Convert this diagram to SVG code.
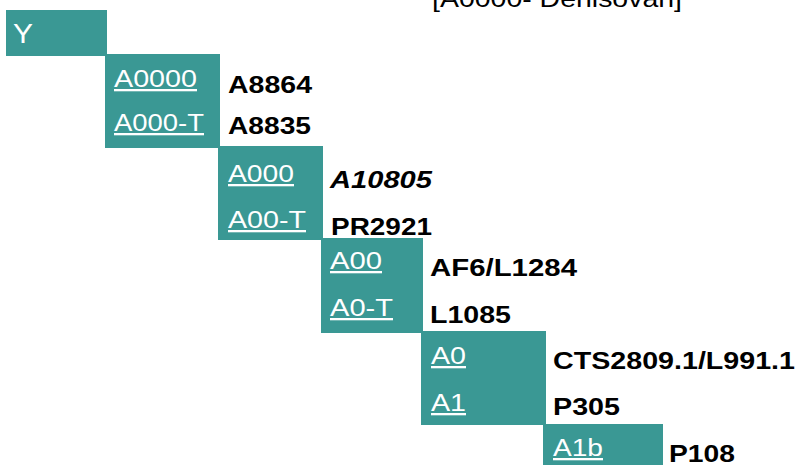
<svg xmlns="http://www.w3.org/2000/svg" width="797" height="465" viewBox="0 0 797 465">
<defs>
<style>
.box{fill:#3a9894;}
.hap{font-family:"Liberation Sans",Arial,sans-serif;font-size:23px;fill:#fff;text-decoration:underline;}
.root{font-family:"Liberation Sans",Arial,sans-serif;font-size:27px;fill:#fff;}
.snp{font-family:"Liberation Sans",Arial,sans-serif;font-size:23px;font-weight:bold;fill:#000;}
.it{font-style:italic;}
.title{font-family:"Liberation Sans",Arial,sans-serif;font-size:24px;fill:#000;}
</style>
</defs>
<rect width="797" height="465" fill="#fff"/>
<text class="title" x="432" y="7" textLength="250" lengthAdjust="spacingAndGlyphs">[A0000- Denisovan]</text>
<g id="connectors"></g>
<g id="node-Y">
<rect class="box" x="6" y="10" width="101" height="46"/>
<text class="root" x="13" y="43" textLength="20" lengthAdjust="spacingAndGlyphs">Y</text>
</g>
<g id="node-A0000">
<rect class="box" x="105" y="54" width="115" height="94"/>
<text class="hap" x="114" y="87" textLength="83" lengthAdjust="spacingAndGlyphs">A0000</text>
<text class="hap" x="114" y="131" textLength="90" lengthAdjust="spacingAndGlyphs">A000-T</text>
<text class="snp" x="228" y="93" textLength="84" lengthAdjust="spacingAndGlyphs">A8864</text>
<text class="snp" x="228" y="134" textLength="83" lengthAdjust="spacingAndGlyphs">A8835</text>
</g>
<g id="node-A000">
<rect class="box" x="218" y="146" width="105" height="94"/>
<text class="hap" x="228" y="182" textLength="66" lengthAdjust="spacingAndGlyphs">A000</text>
<text class="hap" x="228" y="228" textLength="78" lengthAdjust="spacingAndGlyphs">A00-T</text>
<text class="snp it" x="330" y="188" textLength="102" lengthAdjust="spacingAndGlyphs">A10805</text>
<text class="snp" x="331" y="235" textLength="101" lengthAdjust="spacingAndGlyphs">PR2921</text>
</g>
<g id="node-A00">
<rect class="box" x="321" y="238" width="102" height="95"/>
<text class="hap" x="330" y="269" textLength="52" lengthAdjust="spacingAndGlyphs">A00</text>
<text class="hap" x="330" y="316" textLength="63" lengthAdjust="spacingAndGlyphs">A0-T</text>
<text class="snp" x="430" y="276" textLength="147" lengthAdjust="spacingAndGlyphs">AF6/L1284</text>
<text class="snp" x="430" y="323" textLength="81" lengthAdjust="spacingAndGlyphs">L1085</text>
</g>
<g id="node-A0">
<rect class="box" x="421" y="331" width="125" height="94"/>
<text class="hap" x="431" y="364" textLength="35" lengthAdjust="spacingAndGlyphs">A0</text>
<text class="hap" x="431" y="411" textLength="35" lengthAdjust="spacingAndGlyphs">A1</text>
<text class="snp" x="553" y="369" textLength="242" lengthAdjust="spacingAndGlyphs">CTS2809.1/L991.1</text>
<text class="snp" x="553" y="415" textLength="67" lengthAdjust="spacingAndGlyphs">P305</text>
</g>
<g id="node-A1b">
<rect class="box" x="543" y="424" width="120" height="41"/>
<text class="hap" x="553" y="456" textLength="50" lengthAdjust="spacingAndGlyphs">A1b</text>
<text class="snp" x="669" y="462" textLength="66" lengthAdjust="spacingAndGlyphs">P108</text>
</g>
</svg>
